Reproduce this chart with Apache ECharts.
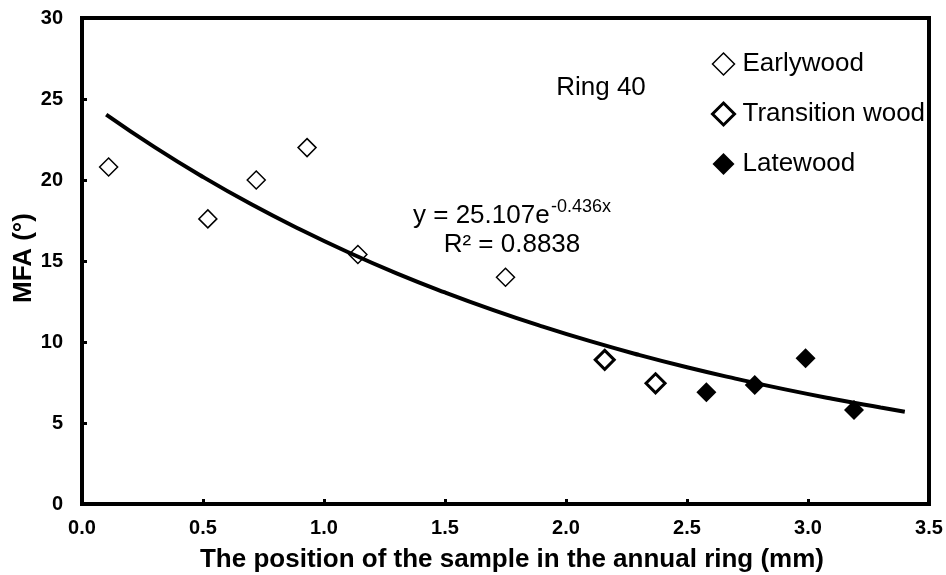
<!DOCTYPE html>
<html>
<head>
<meta charset="utf-8">
<script src="https://cdn.jsdelivr.net/npm/echarts@6/dist/echarts.min.js"></script>
<style>
html,body{margin:0;padding:0;background:#fff;}
#chart{width:946px;height:575px;}
</style>
</head>
<body>
<div id="chart"></div>
<script>
// Data
const earlywood = [[0.11, 20.8], [0.52, 17.6], [0.72, 20.0], [0.93, 22.0], [1.14, 15.4], [1.75, 14.0]];
const transitionWood = [[2.16, 8.9], [2.37, 7.45]];
const latewood = [[2.58, 6.9], [2.78, 7.35], [2.99, 9.0], [3.19, 5.8]];
// Exponential trendline y = 25.107e^(-0.436x)
const trendX = [0.1, 0.3, 0.5, 0.7, 0.9, 1.1, 1.3, 1.5, 1.7, 1.9, 2.1, 2.3, 2.5, 2.7, 2.9, 3.1, 3.3, 3.4];
const trendY = [24.04, 22.03, 20.19, 18.50, 16.96, 15.54, 14.24, 13.06, 11.97, 10.97, 10.05, 9.21, 8.44, 7.74, 7.09, 6.50, 5.96, 5.70];
const xTicks = ['0.0', '0.5', '1.0', '1.5', '2.0', '2.5', '3.0', '3.5'];
const yTicks = ['0', '5', '10', '15', '20', '25', '30'];
const seriesNames = ['Earlywood', 'Transition wood', 'Latewood'];

const FONT = '"Liberation Sans", Arial, sans-serif';
const trend = trendX.map((x, i) => [x, trendY[i]]);

const chart = echarts.init(document.getElementById('chart'), null, {renderer: 'canvas'});
chart.setOption({
  animation: false,
  backgroundColor: '#fff',
  grid: {left: 82, right: 17, top: 18, bottom: 71, show: true, borderColor: '#000', borderWidth: 4, backgroundColor: 'transparent'},
  xAxis: {
    type: 'value', min: 0, max: 3.5, interval: 0.5,
    axisLine: {show: false},
    axisTick: {show: true, inside: true, length: 5, lineStyle: {color: '#000', width: 3}},
    splitLine: {show: false},
    axisLabel: {margin: 14, color: '#000', fontFamily: FONT, fontWeight: 'bold', fontSize: 20,
      formatter: (v) => xTicks[Math.round(v / 0.5)]}
  },
  yAxis: {
    type: 'value', min: 0, max: 30, interval: 5,
    axisLine: {show: false},
    axisTick: {show: true, inside: true, length: 5, lineStyle: {color: '#000', width: 3}},
    splitLine: {show: false},
    axisLabel: {margin: 19, color: '#000', fontFamily: FONT, fontWeight: 'bold', fontSize: 20,
      formatter: (v) => yTicks[Math.round(v / 5)]}
  },
  legend: {
    orient: 'vertical', left: 706, top: 46, itemWidth: 22, itemHeight: 22, itemGap: 24,
    icon: 'diamond', selectedMode: false,
    textStyle: {fontFamily: FONT, fontSize: 26, color: '#000', padding: [0, 0, 0, 3]},
    data: [
      {name: seriesNames[0], itemStyle: {color: '#fff', borderColor: '#000', borderWidth: 1.5, opacity: 1}},
      {name: seriesNames[1], itemStyle: {color: '#fff', borderColor: '#000', borderWidth: 3, opacity: 1}},
      {name: seriesNames[2], itemStyle: {color: '#000', borderColor: '#000', borderWidth: 0, opacity: 1}}
    ]
  },
  series: [
    {name: seriesNames[0], type: 'scatter', data: earlywood, symbol: 'diamond', symbolSize: 18,
      itemStyle: {color: '#fff', borderColor: '#000', borderWidth: 1.5, opacity: 1}, z: 2},
    {name: seriesNames[1], type: 'scatter', data: transitionWood, symbol: 'diamond', symbolSize: 19,
      itemStyle: {color: '#fff', borderColor: '#000', borderWidth: 3, opacity: 1}, z: 2},
    {name: seriesNames[2], type: 'scatter', data: latewood, symbol: 'diamond', symbolSize: 20,
      itemStyle: {color: '#000', borderColor: '#000', borderWidth: 0, opacity: 1}, z: 2},
    {name: 'trend', type: 'line', data: trend, smooth: true, showSymbol: false, symbol: 'none',
      lineStyle: {color: '#000', width: 4}, z: 3, silent: true}
  ],
  graphic: [
    {type: 'text', x: 512, y: 560, style: {text: 'The position of the sample in the annual ring (mm)', font: 'bold 26px ' + FONT, fill: '#000', textAlign: 'center', textVerticalAlign: 'middle'}},
    {type: 'text', rotation: Math.PI / 2, x: 24, y: 258, style: {text: 'MFA (°)', font: 'bold 26px ' + FONT, fill: '#000', textAlign: 'center', textVerticalAlign: 'middle'}},
    {type: 'text', x: 601, y: 88, style: {text: 'Ring 40', font: '26px ' + FONT, fill: '#000', textAlign: 'center', textVerticalAlign: 'middle'}},
    {type: 'text', x: 413, y: 216, style: {text: 'y = 25.107e', font: '26px ' + FONT, fill: '#000', textAlign: 'left', textVerticalAlign: 'middle'}},
    {type: 'text', x: 551, y: 207, style: {text: '-0.436x', font: '18px ' + FONT, fill: '#000', textAlign: 'left', textVerticalAlign: 'middle'}},
    {type: 'text', x: 512, y: 245, style: {text: 'R² = 0.8838', font: '26px ' + FONT, fill: '#000', textAlign: 'center', textVerticalAlign: 'middle'}}
  ]
});
</script>
</body>
</html>
